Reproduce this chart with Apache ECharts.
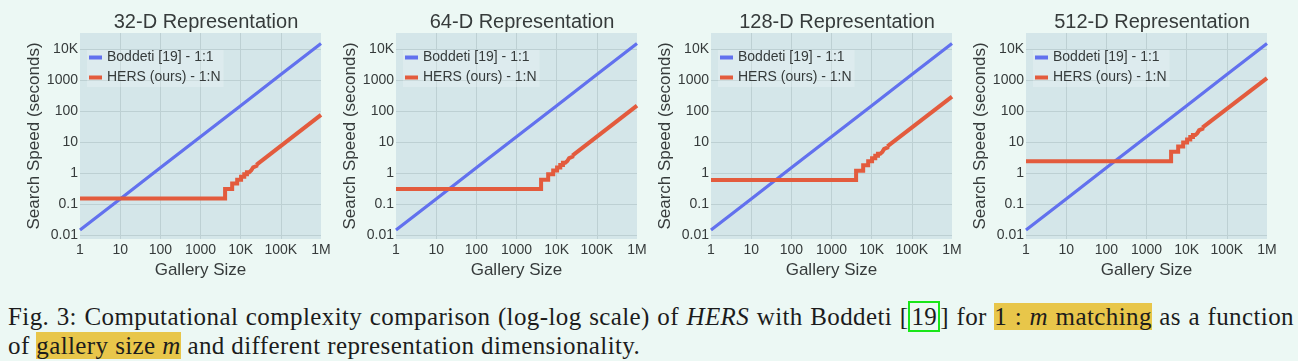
<!DOCTYPE html>
<html><head><meta charset="utf-8">
<script src="https://cdn.jsdelivr.net/npm/echarts@6/dist/echarts.min.js"></script>
<style>
html,body{margin:0;padding:0;background:#ECF8F4;width:1298px;height:361px;overflow:hidden;}
#chart{position:absolute;left:0;top:0;width:1298px;height:296px;}
#cap{position:absolute;left:8px;top:302px;width:1286px;font-family:'Liberation Serif','DejaVu Serif',serif;font-size:25px;line-height:29px;color:#1c1c1c;letter-spacing:0.4px;}
#cap .l1{text-align:justify;text-align-last:justify;}
#cap .hl{background:#E8C64A;}
#cap .cite{border:2px solid #19E619;padding:0 1px;}
</style></head><body>
<div id="chart"></div>
<div id="cap">
<div class="l1">Fig. 3: Computational complexity comparison (log-log scale) of <i>HERS</i> with Boddeti [<span class="cite">19</span>] for <span class="hl">1 : <i>m</i> matching</span> as a function</div>
<div>of <span class="hl">gallery size <i>m</i></span> and different representation dimensionality.</div>
</div>
<script>
// ---- data ----
const panelTitles = ['32-D Representation', '64-D Representation', '128-D Representation', '512-D Representation'];
const seriesNames = ['Boddeti [19] - 1:1', 'HERS (ours) - 1:N'];
const xTickLabels = ['1', '10', '100', '1000', '10K', '100K', '1M'];
const yTickLabels = ['0.01', '0.1', '1', '10', '100', '1000', '10K'];

// Boddeti (same in all panels)
const boddetiX = [1, 10, 100, 1000, 10000, 100000, 1000000];
const boddetiY = [0.015, 0.15, 1.5, 15, 150, 1500, 15000];

// HERS staircase part (step changes) and straight tail
const hersStepX = [1, 4096, 6144, 8192, 10240, 12288, 14336, 16384, 18432, 20480, 22528, 24576];
const hersTailX = [24576, 1000000];

const hers32Step = [0.156, 0.312, 0.468, 0.624, 0.78, 0.936, 1.09, 1.25, 1.40, 1.56, 1.72, 1.87];
const hers32Tail = [1.87, 76];
const hers64Step = [0.31, 0.62, 0.93, 1.24, 1.55, 1.86, 2.17, 2.48, 2.79, 3.1, 3.41, 3.72];
const hers64Tail = [3.72, 150];
const hers128Step = [0.61, 1.22, 1.83, 2.44, 3.05, 3.66, 4.27, 4.88, 5.49, 6.1, 6.71, 7.32];
const hers128Tail = [7.32, 295];
const hers512Step = [2.45, 4.9, 7.35, 9.8, 12.25, 14.7, 17.15, 19.6, 22.05, 24.5, 26.95, 29.4];
const hers512Tail = [29.4, 1160];

const hersSteps = [hers32Step, hers64Step, hers128Step, hers512Step];
const hersTails = [hers32Tail, hers64Tail, hers128Tail, hers512Tail];

// ---- layout / styles ----
const gridLefts = [80, 396, 711, 1026];
const gridW = 241, gridTop = 33, gridH = 206;
const BLUE = '#6271EE', RED = '#E35B3D';
const TXT = '#363b3b';
const FONT = "'Liberation Sans', Arial, sans-serif";
const GRIDLINE = '#BDD0D3';

const zip = (xs, ys) => xs.map((x, i) => [x, ys[i]]);
const nearInt = v => { const l = Math.log10(v); return Math.abs(l - Math.round(l)) < 0.01 ? Math.round(l) : null; };

const grids = [], xAxes = [], yAxes = [], series = [], titles = [], legends = [];
gridLefts.forEach((gl, i) => {
  grids.push({left: gl, top: gridTop, width: gridW, height: gridH, show: true,
    backgroundColor: '#D4E6E9', borderWidth: 0, containLabel: false});
  titles.push({text: panelTitles[i], left: gl + gridW / 2 + 5.5, top: 12, textAlign: 'center', padding: 0,
    textStyle: {fontFamily: FONT, fontSize: 20, fontWeight: 'normal', color: TXT}});
  xAxes.push({type: 'log', gridIndex: i, min: 1, max: 1000000, logBase: 10,
    name: 'Gallery Size', nameLocation: 'middle', nameGap: 21,
    nameTextStyle: {fontFamily: FONT, fontSize: 17, color: TXT},
    axisLine: {show: false}, axisTick: {show: false},
    splitLine: {show: true, showMinLine: false, showMaxLine: false, lineStyle: {color: GRIDLINE, width: 1}},
    axisLabel: {margin: 4, fontFamily: FONT, fontSize: 14, color: TXT,
      formatter: v => { const k = nearInt(v); return k === null ? '' : (xTickLabels[k] || ''); }}
  });
  yAxes.push({type: 'log', gridIndex: i, min: 0.0077, max: 32700, logBase: 10,
    name: 'Search Speed (seconds)', nameLocation: 'middle', nameGap: 35,
    nameTextStyle: {fontFamily: FONT, fontSize: 17, color: TXT},
    axisLine: {show: false}, axisTick: {show: false},
    splitLine: {show: true, showMinLine: false, showMaxLine: false, lineStyle: {color: GRIDLINE, width: 1}},
    axisLabel: {margin: 2, fontFamily: FONT, fontSize: 14, color: TXT, showMinLabel: false, showMaxLabel: false,
      formatter: v => { const k = nearInt(v); return k === null ? '' : (yTickLabels[k + 2] || ''); }}
  });
  series.push({name: seriesNames[0], type: 'line', xAxisIndex: i, yAxisIndex: i, symbol: 'none',
    data: zip(boddetiX, boddetiY), color: BLUE, itemStyle: {color: BLUE},
    lineStyle: {color: BLUE, width: 3.2, cap: 'butt'}, z: 2, animation: false});
  series.push({name: seriesNames[1], type: 'line', xAxisIndex: i, yAxisIndex: i, symbol: 'none', step: 'end',
    data: zip(hersStepX, hersSteps[i]), color: RED, itemStyle: {color: RED},
    lineStyle: {color: RED, width: 4, cap: 'butt', join: 'miter'}, z: 3, animation: false});
  series.push({name: seriesNames[1], type: 'line', xAxisIndex: i, yAxisIndex: i, symbol: 'none',
    data: zip(hersTailX, hersTails[i]), color: RED, itemStyle: {color: RED},
    lineStyle: {color: RED, width: 4, cap: 'butt', join: 'miter'}, z: 3, animation: false});
  legends.push({data: seriesNames, orient: 'vertical', left: gl + 7, top: 50, padding: [0, 3, 2, 2],
    backgroundColor: 'rgba(255,255,255,0.22)', icon: 'rect', itemWidth: 13, itemHeight: 4, itemGap: 5,
    selectedMode: false,
    textStyle: {fontFamily: FONT, fontSize: 14, color: TXT, lineHeight: 15}});
});

const chart = echarts.init(document.getElementById('chart'), null, {renderer: 'canvas'});
chart.setOption({animation: false, title: titles, grid: grids, xAxis: xAxes, yAxis: yAxes, legend: legends, series: series});
</script>
</body></html>
